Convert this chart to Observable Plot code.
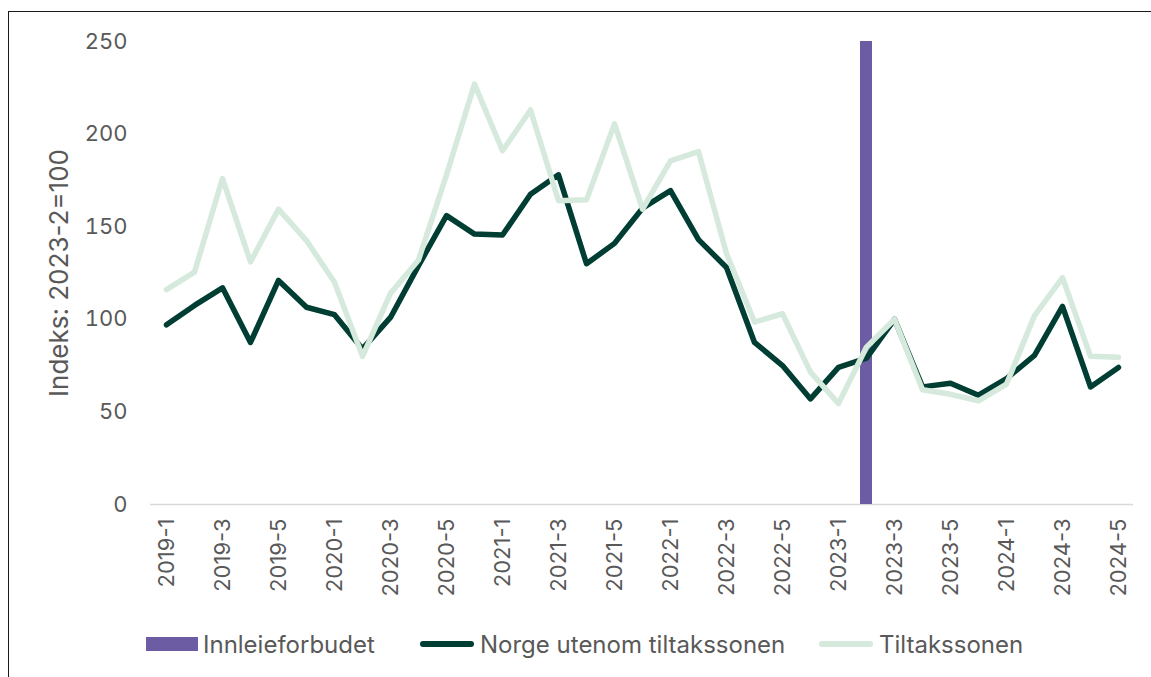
<!DOCTYPE html>
<html>
<head>
<meta charset="utf-8">
<script src="https://cdn.jsdelivr.net/npm/d3@7"></script>
<script src="https://cdn.jsdelivr.net/npm/@observablehq/plot@0.6"></script>
<style>
  html, body { margin: 0; padding: 0; background: #fff; }
  body { width: 1151px; height: 677px; position: relative; overflow: hidden; font-family: Inter, "Noto Sans", sans-serif; }
  #frame { position: absolute; left: 8px; top: 11px; width: 1300px; height: 800px; border-top: 1.5px solid #1a1a1a; border-left: 1.5px solid #1a1a1a; }
  #chart { position: absolute; left: 0; top: 0; }
  .leg { position: absolute; top: 630px; height: 28px; display: flex; align-items: center; font-size: 24px; color: #595959; white-space: nowrap; }
  .sw-rect { width: 52px; height: 14px; margin-right: 5px; }
  .sw-line { width: 54px; height: 5.5px; border-radius: 3px; margin-right: 6px; }
</style>
</head>
<body>
<div id="frame"></div>
<div id="chart"></div>
<div class="leg" style="left:146px"><span class="sw-rect" style="background:#6c5ca3"></span>Innleieforbudet</div>
<div class="leg" style="left:420px"><span class="sw-line" style="background:#003d33"></span>Norge utenom tiltakssonen</div>
<div class="leg" style="left:819px"><span class="sw-line" style="background:#d5e9dc"></span>Tiltakssonen</div>
<script>
const periods = [
  "2019-1","2019-2","2019-3","2019-4","2019-5","2019-6",
  "2020-1","2020-2","2020-3","2020-4","2020-5","2020-6",
  "2021-1","2021-2","2021-3","2021-4","2021-5","2021-6",
  "2022-1","2022-2","2022-3","2022-4","2022-5","2022-6",
  "2023-1","2023-2","2023-3","2023-4","2023-5","2023-6",
  "2024-1","2024-2","2024-3","2024-4","2024-5"
];
const tickLabels = ["2019-1","2019-3","2019-5","2020-1","2020-3","2020-5","2021-1","2021-3","2021-5",
  "2022-1","2022-3","2022-5","2023-1","2023-3","2023-5","2024-1","2024-3","2024-5"];
const yTicks = [0, 50, 100, 150, 200, 250];

const norge = [97,107.5,117,87.5,121,106.5,102.5,84,101,129,156,146,145.5,167.5,178,130,141,160,169.5,143,128,87.5,75,57,74,79,100,63.5,65.5,59,68,80.5,107,63.5,74];
const tiltakssonen = [116,125.5,176,131,159.5,142.5,120,80,114,132,178,227,191,213,164,164.5,205.5,159.5,185.5,190.5,135.5,98.5,103,71.5,54.5,85,100,62,59.5,56,65,102,122.5,80,79.5];
const innleiePeriod = ["2023-2"];
const innleieValue = [250];

const seriesNames = ["Innleieforbudet", "Norge utenom tiltakssonen", "Tiltakssonen"];
const colors = ["#6c5ca3", "#003d33", "#d5e9dc"];

const barRows = innleiePeriod.map((p, i) => ({period: p, value: innleieValue[i]}));
const norgeRows = periods.map((p, i) => ({period: p, value: norge[i]}));
const tiltakRows = periods.map((p, i) => ({period: p, value: tiltakssonen[i]}));

const chart = Plot.plot({
  width: 1151,
  height: 610,
  marginTop: 41,
  marginBottom: 106,
  marginLeft: 150,
  marginRight: 18,
  style: {fontFamily: "Inter, 'Noto Sans', sans-serif", fontSize: "22px", color: "#595959", background: "transparent"},
  x: {type: "band", domain: periods, padding: 0},
  y: {domain: [0, 250]},
  marks: [
    Plot.ruleY([0], {stroke: "#d9d9d9", strokeWidth: 1.5}),
    Plot.barY(barRows, {x: "period", y: "value", fill: colors[0], insetLeft: 8, insetRight: 8}),
    Plot.line(norgeRows, {x: "period", y: "value", stroke: colors[1], strokeWidth: 5.5, strokeLinejoin: "round", strokeLinecap: "round"}),
    Plot.line(tiltakRows, {x: "period", y: "value", stroke: colors[2], strokeWidth: 5.5, strokeLinejoin: "round", strokeLinecap: "round"}),
    Plot.axisX({ticks: tickLabels, tickRotate: -90, tickSize: 0, tickPadding: 14, label: null, fontSize: 22}),
    Plot.axisY({ticks: yTicks, tickSize: 0, tickPadding: 23, fontSize: 22, label: null}),
    Plot.axisY({ticks: [], tickSize: 0, fontSize: 26, label: "Indeks: 2023-2=100", labelAnchor: "center", labelOffset: 101, labelArrow: "none"})
  ]
});
document.getElementById("chart").appendChild(chart);
</script>
</body>
</html>
